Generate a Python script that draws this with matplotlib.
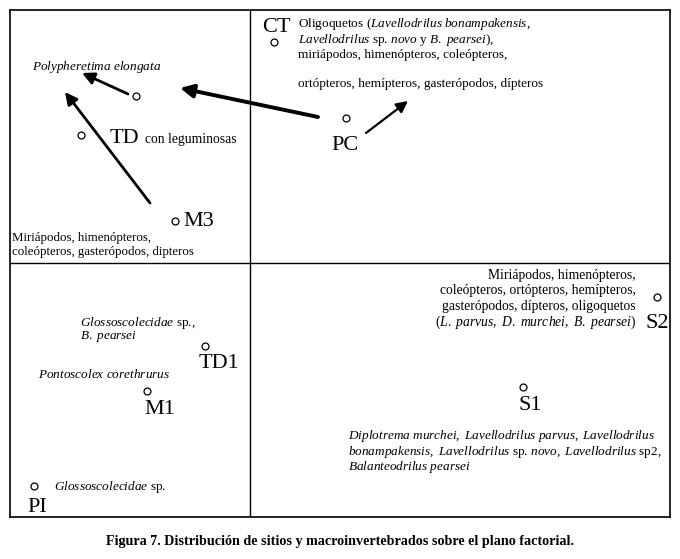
import matplotlib
matplotlib.use("Agg")
import matplotlib.pyplot as plt

plt.rcParams['font.family'] = ['Liberation Serif', 'DejaVu Serif']
plt.rcParams['mathtext.fontset'] = 'custom'
plt.rcParams['mathtext.rm'] = 'Liberation Serif'
plt.rcParams['mathtext.it'] = 'Liberation Serif:italic'
plt.rcParams['mathtext.bf'] = 'Liberation Serif:bold'

# sites on the factorial plane (axis 1, axis 2)
sites = ['CT', '', 'TD', 'PC', 'M3', 'S2', 'TD1', 'M1', 'S1', 'PI']
f1 = [24, -114, -169, 96, -75, 407, -45, -103, 273, -216]
f2 = [221, 167, 128, 145, 42, -34, -83, -128, -124, -223]

# site label positions
lab_x = [26, None, -140, 95, -67, 407, -31, -90, 280, -213]
lab_y = [235, None, 120, 118, 42, -61, -101, -147, -143, -244]

# arrows: (start, end)
arrows = [((-122, 169), (-168, 190), 2.0),
          ((-100, 60), (-185, 171), 2.0),
          ((68, 146), (-70, 175), 2.8),
          ((116, 130), (158, 162), 1.6)]

ct_lines = [r'Oligoquetos ($\mathit{Lavellodrilus\ bonampakensis}$,',
            r'$\mathit{Lavellodrilus}$ sp. $\mathit{novo}$ y $\mathit{B.\ pearsei}$),',
            'miriápodos, himenópteros, coleópteros,',
            '',
            'ortópteros, hemípteros, gasterópodos, dípteros']
s2_lines = ['Miriápodos, himenópteros,',
            'coleópteros, ortópteros, hemípteros,',
            'gasterópodos, dípteros, oligoquetos',
            r'($\mathit{L.\ parvus,\ D.\ murchei,\ B.\ pearsei}$)']
s1_lines = [r'$\mathit{Diplotrema\ murchei,\ Lavellodrilus\ parvus,\ Lavellodrilus}$',
            r'$\mathit{bonampakensis,\ Lavellodrilus}$ sp. $\mathit{novo,\ Lavellodrilus}$ sp2,',
            r'$\mathit{Balanteodrilus\ pearsei}$']
m3_lines = ['Miriápodos, himenópteros,',
            'coleópteros, gasterópodos, dipteros']
td1_lines = [r'$\mathit{Glossoscolecidae}$ sp.,',
             r'$\mathit{B.\ pearsei}$']

fig = plt.figure(figsize=(6.8, 5.59), dpi=100)
ax = fig.add_axes([10/680, 42/559, 660/680, 507/559])
ax.set_xlim(-240, 420)
ax.set_ylim(-254, 253)
ax.set_xticks([])
ax.set_yticks([])
for s in ax.spines.values():
    s.set_linewidth(1.2)
ax.axvline(0, color='black', lw=1)
ax.axhline(0, color='black', lw=1)

ax.plot(f1, f2, 'o', ms=5, mfc='white', mec='black', mew=0.9, ls='none')

for name, x, y in zip(sites, lab_x, lab_y):
    if not name:
        continue
    if name == 'TD':
        ax.text(x, y, name, fontsize=16, ha='left', va='baseline')
    elif name == 'M3':
        ax.text(x, y, name, fontsize=16, ha='left', va='center')
    else:
        ax.text(x, y, name, fontsize=16, ha='center', va='center')
ax.text(-105, 120, 'con leguminosas', fontsize=9.8, ha='left', va='baseline')

for (x0, y0), (x1, y1), w in arrows:
    ax.annotate('', xy=(x1, y1), xytext=(x0, y0),
                arrowprops=dict(arrowstyle='-|>', lw=w, color='black',
                                mutation_scale=14 + 2*w, shrinkA=0, shrinkB=0))

fs = 9.5
step = 15.5
for i, line in enumerate(ct_lines):
    y = 239 - i*step if i < 3 else 239 - 2*step - 29
    ax.text(48, y, line, fontsize=fs, ha='left', va='center')
for i, line in enumerate(s2_lines):
    ax.text(386, -12 - i*15.7, line, fontsize=9.8, ha='right', va='center')
for i, line in enumerate(s1_lines):
    ax.text(98, -173 - i*15.5, line, fontsize=fs, ha='left', va='center')
for i, line in enumerate(m3_lines):
    ax.text(-238, 25 - i*13.5, line, fontsize=9.3, ha='left', va='center')
for i, line in enumerate(td1_lines):
    ax.text(-170, -60 - i*14, line, fontsize=fs, ha='left', va='center')

ax.text(-218, 196, r'$\mathit{Polypheretima\ elongata}$', fontsize=fs, ha='left', va='center')
ax.text(-212, -111, r'$\mathit{Pontoscolex\ corethrurus}$', fontsize=fs, ha='left', va='center')
ax.text(-196, -224, r'$\mathit{Glossoscolecidae}$ sp.', fontsize=fs, ha='left', va='center')

fig.text(0.5, (559-541)/559, 'Figura 7. Distribución de sitios y macroinvertebrados sobre el plano factorial.',
         fontsize=10.2, fontweight='bold', ha='center', va='center')

fig.savefig('out.png', dpi=100)
